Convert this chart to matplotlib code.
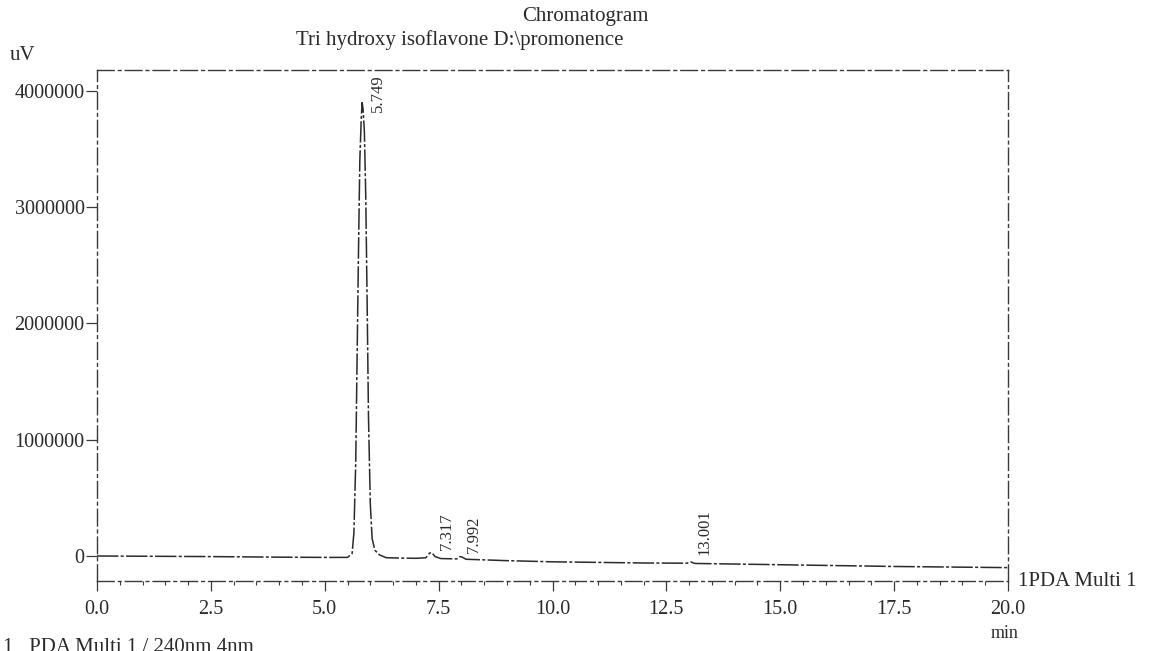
import matplotlib
matplotlib.use("Agg")
import matplotlib.pyplot as plt
from matplotlib.ticker import MultipleLocator, FixedLocator

# ---- data ----
time_min = [0.0, 1.0, 2.5, 4.0, 5.0, 5.50, 5.60, 5.64, 5.68, 5.71, 5.74, 5.77,
            5.80, 5.82, 5.84, 5.87, 5.90, 5.93, 5.96, 6.00, 6.04, 6.10, 6.20,
            6.35, 7.0, 7.22, 7.30, 7.35, 7.42, 7.55, 7.90, 7.97, 8.02, 8.10,
            9.0, 10.0, 12.0, 12.95, 13.03, 13.12, 15.0, 17.5, 20.0]
signal_uv = [0, -2000, -5000, -10000, -12000, -12000, 20000, 200000, 800000,
             1700000, 2600000, 3400000, 3750000, 3900000, 3850000, 3650000,
             3100000, 2200000, 1200000, 450000, 150000, 50000, 10000,
             -15000, -20000, -15000, 25000, 30000, -5000, -22000, -25000,
             -5000, -10000, -28000, -40000, -50000, -60000, -62000, -50000,
             -64000, -75000, -90000, -100000]

peak_rt = [5.749, 7.317, 7.992, 13.001]
peak_label_x = [6.17, 7.68, 8.27, 13.33]
peak_label_y = [3820000, 50000, 30000, 10000]

x_ticks = [0.0, 2.5, 5.0, 7.5, 10.0, 12.5, 15.0, 17.5, 20.0]
y_ticks = [0, 1000000, 2000000, 3000000, 4000000]

W, H = 1155, 651
fig = plt.figure(figsize=(W / 100, H / 100), dpi=100)
ax = fig.add_axes([97 / W, 1 - 581 / H, (1008 - 97) / W, (581 - 70) / H])

serif = ["Liberation Serif", "DejaVu Serif"]
tc = "#2a2a2a"

ax.plot(time_min, signal_uv, color="#2a2a2a", lw=1.1,
        linestyle=(0, (14, 1.5, 2, 1.5)))

ax.set_xlim(0, 20)
ax.set_ylim(-215000, 4180000)

for s in ax.spines.values():
    s.set_linestyle((0, (12, 3, 2, 3)))
    s.set_color("#3a3a3a")
    s.set_linewidth(1.0)

ax.xaxis.set_major_locator(FixedLocator(x_ticks))
ax.xaxis.set_minor_locator(MultipleLocator(0.5))
ax.yaxis.set_major_locator(FixedLocator(y_ticks))
ax.set_xticklabels([f"{v:.1f}" for v in x_ticks])
ax.set_yticklabels([f"{v:d}" for v in y_ticks])
ax.tick_params(axis="x", which="major", direction="out", length=7, width=0.9,
               color="#3a3a3a", pad=7, labelsize=14.5, labelcolor=tc)
ax.tick_params(axis="x", which="minor", direction="out", length=3, width=0.8,
               color="#3a3a3a")
ax.tick_params(axis="y", which="major", direction="out", length=8, width=0.9,
               color="#3a3a3a", pad=1, labelsize=14.5, labelcolor=tc)
for lab in ax.get_xticklabels() + ax.get_yticklabels():
    lab.set_family(serif)

for rt, lx, ly in zip(peak_rt, peak_label_x, peak_label_y):
    ax.text(lx, ly, f"{rt:.3f}", rotation=90, ha="center", va="bottom",
            fontsize=12, color=tc, family=serif)

fig.text(585 / W, 1 - 16 / H, "Chromatogram", ha="center", va="center",
         fontsize=15, color=tc, family=serif)
fig.text(623 / W, 1 - 40 / H, "Tri hydroxy isoflavone D:\\promonence",
         ha="right", va="center", fontsize=15, color=tc, family=serif)
fig.text(10 / W, 1 - 56 / H, "uV", ha="left", va="center",
         fontsize=15, color=tc, family=serif)
fig.text(1018 / W, 1 - 581 / H, "1PDA Multi 1", ha="left", va="center",
         fontsize=15, color=tc, family=serif)
fig.text(1005 / W, 1 - 634 / H, "min", ha="center", va="center",
         fontsize=13, color=tc, family=serif)
fig.text(3 / W, 1 - 638 / H, "1   PDA Multi 1 / 240nm 4nm", ha="left",
         va="top", fontsize=15, color=tc, family=serif)

fig.savefig("out.png", dpi=100, facecolor="white")
